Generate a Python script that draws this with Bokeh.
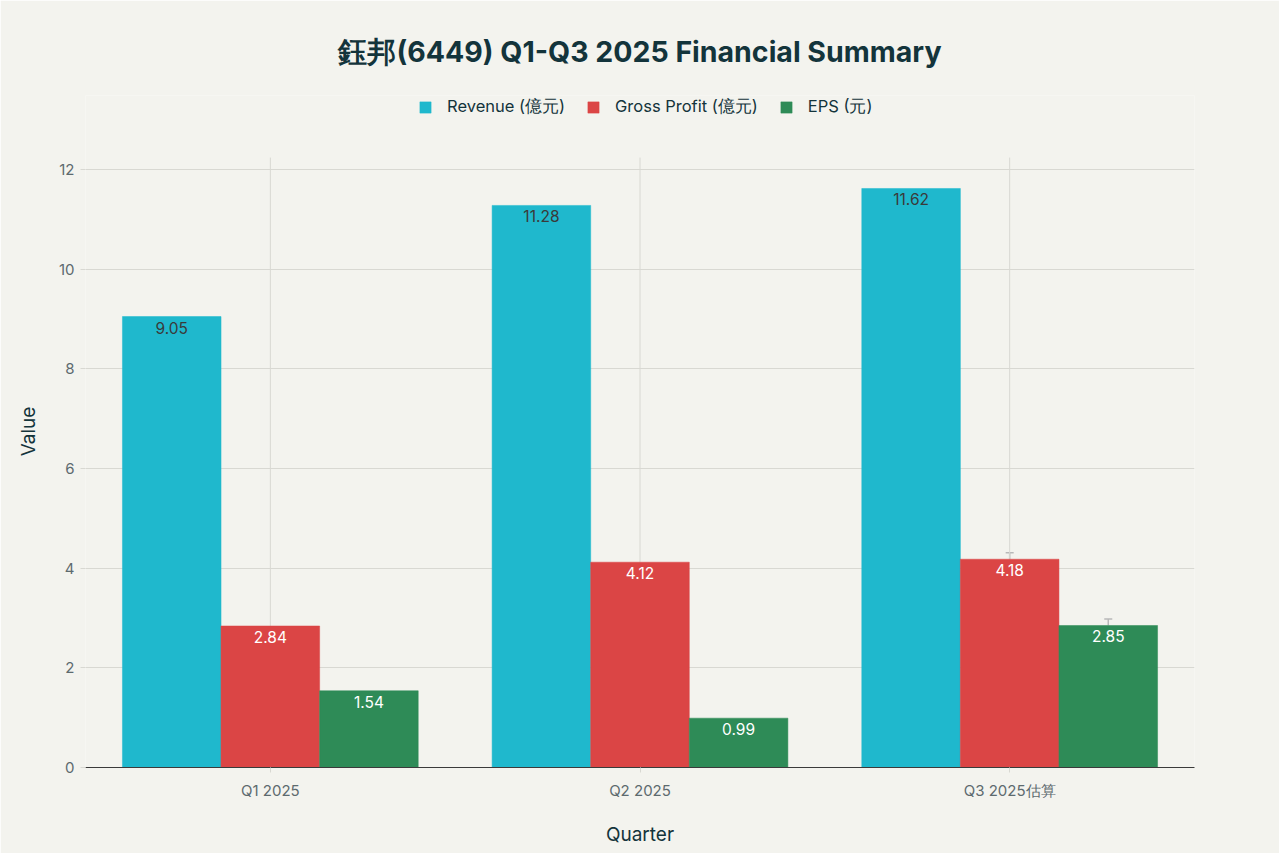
from bokeh.plotting import figure
from bokeh.models import ColumnDataSource, FactorRange, Range1d, Legend, LegendItem, Whisker, TeeHead
from bokeh.transform import dodge
from bokeh.core.properties import value
from bokeh.embed import file_html
from bokeh.resources import INLINE

quarters = ["Q1 2025", "Q2 2025", "Q3 2025估算"]
revenue = [9.05, 11.28, 11.62]
gross_profit = [2.84, 4.12, 4.18]
eps = [1.54, 0.99, 2.85]
gp_err = [0.0, 0.0, 0.13]
eps_err = [0.0, 0.0, 0.13]
y_ticks = [0, 2, 4, 6, 8, 10, 12]
series_names = ["Revenue (億元)", "Gross Profit (億元)", "EPS (元)"]
colors = ["#1FB8CD", "#DB4545", "#2E8B57"]
label_colors = ["#3a3a3a", "#ffffff", "#ffffff"]

FONT = "Inter"
BG = "#F3F3EE"
GRID = "#d8d8d2"
PLOT_TOP = 12.24     # top of the plotting area in data units
FRAME_TOP = 13.486   # frame extends higher to host the legend

p = figure(width=1279, height=853, x_range=FactorRange(*quarters), y_range=Range1d(0, FRAME_TOP),
           output_backend="svg", toolbar_location=None,
           background_fill_color=BG, border_fill_color=BG,
           min_border_left=85, min_border_right=85, min_border_top=95, min_border_bottom=86)
p.outline_line_color = None

# vertical grid lines at category centres, limited to the plotting area
p.segment(x0=quarters, y0=[0] * len(quarters), x1=quarters, y1=[PLOT_TOP] * len(quarters),
          line_color=GRID, line_width=1)

src = ColumnDataSource(dict(q=quarters, rev=revenue, gp=gross_profit, eps=eps,
                            rev_lbl=[f"{v:.2f}" for v in revenue],
                            gp_lbl=[f"{v:.2f}" for v in gross_profit],
                            eps_lbl=[f"{v:.2f}" for v in eps],
                            rev_t=[v - 0.1 for v in revenue],
                            gp_t=[v - 0.1 for v in gross_profit],
                            eps_t=[v - 0.1 for v in eps]))

w = 0.2667
offsets = [-w, 0.0, w]
cols = ["rev", "gp", "eps"]
renderers = []
for col, off, c, lc in zip(cols, offsets, colors, label_colors):
    r = p.vbar(x=dodge("q", off, range=p.x_range), top=col, width=w, source=src,
               fill_color=c, line_color=c, line_width=0.5)
    renderers.append(r)
    p.text(x=dodge("q", off, range=p.x_range), y=col + "_t", text=col + "_lbl", source=src,
           text_align="center", text_baseline="top", text_color=lc,
           text_font=value(FONT), text_font_size="15.5px")

# error bars (upper only)
for vals, errs, off in [(gross_profit, gp_err, 0.0), (eps, eps_err, w)]:
    qs = [q for q, e in zip(quarters, errs) if e > 0]
    base = [v for v, e in zip(vals, errs) if e > 0]
    up = [v + e for v, e in zip(vals, errs) if e > 0]
    es = ColumnDataSource(dict(q=qs, base=base, up=up))
    wh = Whisker(base=dodge("q", off, range=p.x_range), lower="base", upper="up", source=es,
                 dimension="height", line_color="#b8b8b8", line_width=1.5,
                 upper_head=TeeHead(size=8, line_color="#b8b8b8", line_width=1.5), lower_head=None)
    p.add_layout(wh)

legend = Legend(items=[LegendItem(label=n, renderers=[r]) for n, r in zip(series_names, renderers)],
                orientation="horizontal", location=(333, 649),
                background_fill_alpha=0, border_line_color=None,
                label_text_font=FONT, label_text_font_size="16.5px", label_text_color="#13343B",
                glyph_width=14, glyph_height=14, spacing=21, label_standoff=15, margin=0, padding=0)
p.add_layout(legend, "center")

p.title.text = "鈺邦(6449) Q1-Q3 2025 Financial Summary"
p.title.align = "center"
p.title.text_font = FONT
p.title.text_font_size = "28.5px"
p.title.text_font_style = "bold"
p.title.text_color = "#13343B"
p.title.offset = 0
p.title.standoff = 0
p.title.padding = 27

p.xaxis.axis_label = "Quarter"
p.yaxis.axis_label = "Value"
for ax in (p.xaxis[0], p.yaxis[0]):
    ax.axis_label_text_font = FONT
    ax.axis_label_text_font_size = "19px"
    ax.axis_label_text_font_style = "normal"
    ax.axis_label_text_color = "#13343B"
    ax.major_label_text_font = FONT
    ax.major_label_text_font_size = "15px"
    ax.major_label_text_color = "#5d6a6e"
    ax.minor_tick_line_color = None

p.yaxis.ticker = y_ticks
p.yaxis.axis_line_color = None
p.yaxis.major_tick_line_color = GRID
p.yaxis.major_tick_in = 0
p.yaxis.major_tick_out = 5
p.yaxis.major_label_standoff = 6
p.yaxis.axis_label_standoff = 16

p.xaxis.axis_line_color = "#3a3a3a"
p.xaxis.major_tick_line_color = GRID
p.xaxis.major_tick_in = 0
p.xaxis.major_tick_out = 5
p.xaxis.major_label_standoff = 8
p.xaxis.axis_label_standoff = 20

p.ygrid.grid_line_color = GRID
p.ygrid.grid_line_width = 1
p.xgrid.grid_line_color = None

open("out.html", "w").write(file_html(p, INLINE))
